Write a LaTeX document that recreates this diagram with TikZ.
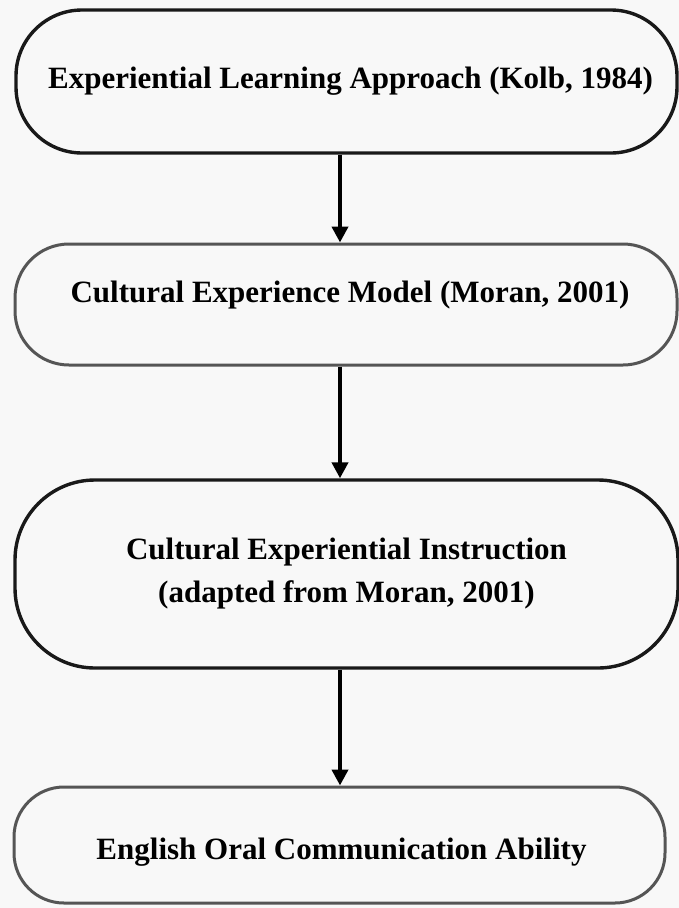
\documentclass[tikz,border=0pt]{standalone}
\usepackage{fontspec}
\setmainfont{Liberation Serif}
\usetikzlibrary{arrows.meta}
\definecolor{bg}{RGB}{248,248,248}
\definecolor{grayline}{RGB}{85,85,85}
\begin{document}
\begin{tikzpicture}[x=1pt,y=-1pt,
  box/.style={draw, rectangle, line width=3.4pt, align=center, inner sep=0pt,
    font=\fontsize{31}{43}\selectfont\bfseries},
  blackbox/.style={box, draw=black!90},
  graybox/.style={box, draw=grayline, line width=3pt},
  arr/.style={line width=4pt, -{Triangle[width=16pt,length=16pt]}}]
\fill[bg] (0,0) rectangle (679,908);
\useasboundingbox (0,0) rectangle (679,908);
\node[blackbox, minimum width=661pt, minimum height=143pt, rounded corners=66pt] (b1) at (346.5,81.5) {\hspace*{8pt}Experiential Learning Approach (Kolb, 1984)};
\node[graybox, minimum width=662pt, minimum height=121pt, rounded corners=54pt, text depth=26pt] (b2) at (346,304.5) {\hspace*{8pt}Cultural Experience Model (Moran, 2001)};
\node[blackbox, minimum width=663pt, minimum height=188pt, rounded corners=80pt] (b3) at (346.5,574) {Cultural Experiential Instruction\\(adapted from Moran, 2001)};
\node[graybox, minimum width=651pt, minimum height=116pt, rounded corners=50pt, text height=36pt] (b4) at (339.5,845) {\hspace*{4pt}English Oral Communication Ability};
\coordinate (ax) at (340,0);
\draw[arr] (b1.south -| ax) -- (b2.north -| ax);
\draw[arr] (b2.south -| ax) -- (b3.north -| ax);
\draw[arr] (b3.south -| ax) -- (b4.north -| ax);
\end{tikzpicture}
\end{document}
